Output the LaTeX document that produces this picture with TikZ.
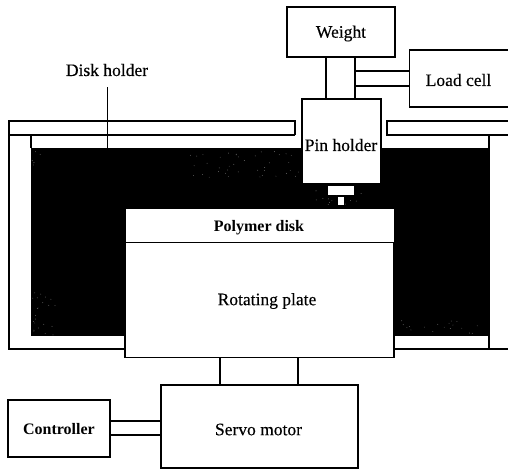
\documentclass[tikz,border=0pt]{standalone}
\usepackage{fontspec}
\setmainfont{Liberation Serif}
\newfontfamily\medfont[FakeBold=0.35]{Liberation Serif}
\begin{document}
\begin{tikzpicture}[x=1pt,y=-1pt,line join=miter,
  ln/.style={draw=black,line width=1.1pt},
  blockbox/.style={ln,fill=white,inner sep=0pt},
  plainlabel/.style={inner sep=0pt,font=\medfont\fontsize{17.5}{18}\selectfont},
  boldlabel/.style={inner sep=0pt,font=\fontsize{16}{18}\selectfont\bfseries}]
\useasboundingbox (0,0) rectangle (508,471);
% black cavity of the disk holder
\fill[black] (31,148) rectangle (489,336);
% speckle of the print in the black area
\pgfmathsetseed{7}
\foreach \xa/\xb/\ya/\yb/\n in {190/300/150/178/40,32/58/292/335/22,400/487/320/335/18,312/365/186/205/18,32/42/150/165/6}{
  \foreach \i in {1,...,\n}{
    \pgfmathsetmacro\px{\xa+rnd*(\xb-\xa)}
    \pgfmathsetmacro\py{\ya+rnd*(\yb-\ya)}
    \fill[black!60] (\px,\py) circle (0.45);
  }
}
% holder outline: plates, wall and bottom strips
\draw[ln] (508,121) -- (387,121) -- (387,135) -- (508,135);
\draw[ln] (295,135) -- (9,135);
\draw[ln] (295,135) -- (295,121) -- (9,121) -- (9,349) -- (125,349);
\draw[ln] (31,135) -- (31,148);
\draw[ln] (489,135) -- (489,349);
\draw[ln] (394,349) -- (508,349);
\fill[white] (31,336.5) rectangle (124,348.4);
\fill[white] (394.5,336.5) rectangle (488.4,348.4);
% nodes
\node[blockbox,minimum width=108pt,minimum height=50pt] (weight) at (341,32) {};
\node[plainlabel] (weightlabel) at (341,33.5) {Weight};
\node[blockbox,minimum width=100pt,minimum height=57pt,anchor=west] (load) at (409,78.5) {};
\node[plainlabel] (loadlabel) at (458.5,80) {Load cell};
\node[blockbox,minimum width=79pt,minimum height=85pt] (pin) at (341.5,141.5) {};
\node[plainlabel] (pinlabel) at (341,145) {Pin holder};
\node[minimum width=268pt,minimum height=34pt,inner sep=0pt,fill=white] (disk) at (259.5,226) {};
\node[boldlabel] (disklabel) at (259,228) {Polymer disk};
\node[blockbox,minimum width=269pt,minimum height=115pt] (plate) at (259.5,300) {};
\node[plainlabel] (platelabel) at (267,301) {Rotating plate};
\node[blockbox,minimum width=197pt,minimum height=83pt] (servo) at (259.5,426.5) {};
\node[plainlabel] (servolabel) at (258.5,429.5) {Servo motor};
\node[blockbox,minimum width=102pt,minimum height=57pt] (ctrl) at (59,428.5) {};
\node[boldlabel] (ctrllabel) at (59,429) {Controller};
\node[plainlabel] (holderlabel) at (107,70) {Disk holder};
\node[inner sep=0pt,fill=white,minimum width=26pt,minimum height=9pt] (tip) at (341,190.5) {};
\node[inner sep=0pt,fill=white,minimum width=6pt,minimum height=8pt] (pintip) at (341,201) {};
% connectors
\coordinate (colL) at (326,57);
\coordinate (colR) at (355,57);
\draw[ln] (colL) -- (colL |- pin.north);
\draw[ln] (colR) -- (colR |- pin.north);
\coordinate (loadA) at (355,71);
\coordinate (loadB) at (355,86);
\draw[ln] (loadA) -- (loadA -| load.west);
\draw[ln] (loadB) -- (loadB -| load.west);
\coordinate (shaftL) at (220,357);
\coordinate (shaftR) at (298,357);
\draw[ln] (shaftL) -- (shaftL |- servo.north);
\draw[ln] (shaftR) -- (shaftR |- servo.north);
\coordinate (ctrlA) at (110,421);
\coordinate (ctrlB) at (110,435);
\draw[ln] (ctrlA) -- (ctrlA -| servo.west);
\draw[ln] (ctrlB) -- (ctrlB -| servo.west);
\coordinate (leader) at (107.5,87);
\draw[ln] (leader) -- (107.5,148);
\end{tikzpicture}
\end{document}
